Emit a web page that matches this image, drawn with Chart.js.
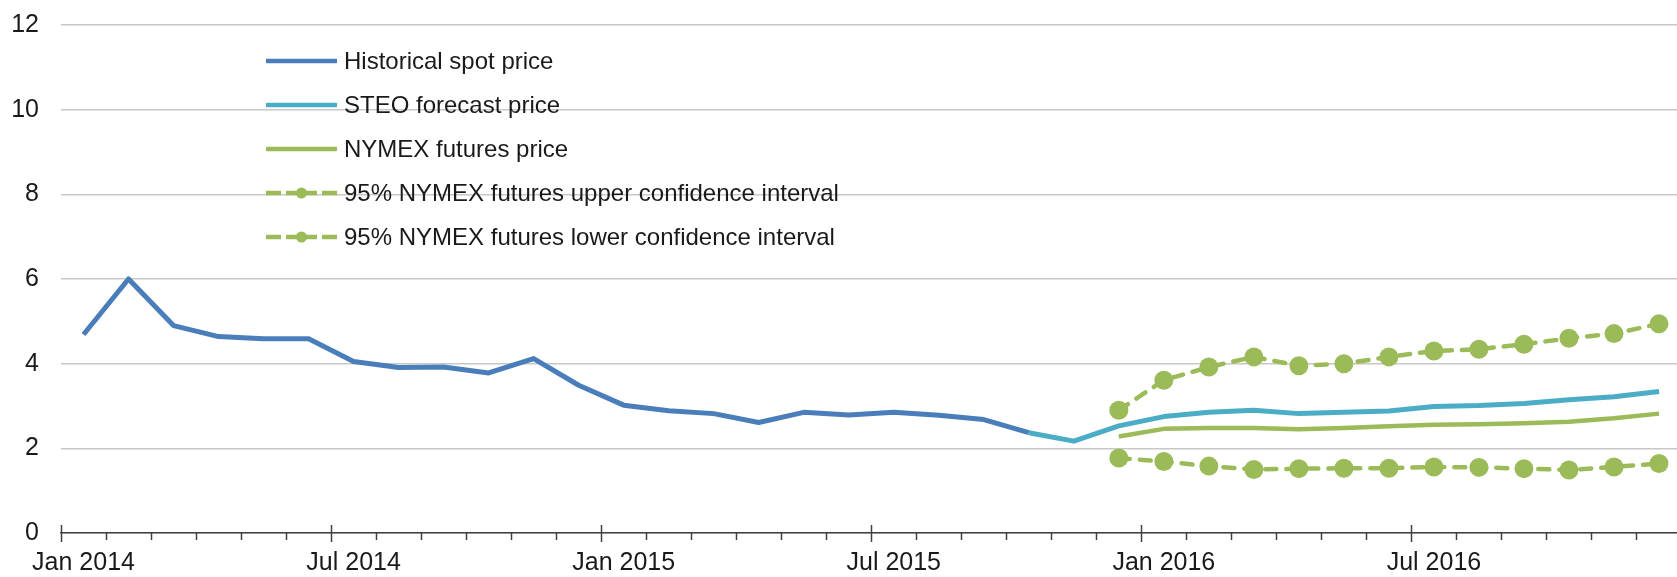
<!DOCTYPE html>
<html>
<head>
<meta charset="utf-8">
<script src="https://cdn.jsdelivr.net/npm/chart.js@4.4.1/dist/chart.umd.min.js"></script>
<style>
  html, body { margin: 0; padding: 0; background: #fff; overflow: hidden; }
  #wrap { position: relative; width: 1691px; height: 577px; }
  #legend { position: absolute; left: 266px; top: 0; font-family: "Liberation Sans", Arial, sans-serif; font-size: 24px; color: #1a1a1a; }
  .row { position: absolute; left: 0; height: 30px; display: flex; align-items: center; white-space: nowrap; }
  .row svg { margin-right: 7px; flex: none; }
</style>
</head>
<body>
<div id="wrap">
  <canvas id="chartGas"></canvas>
  <div id="legend"></div>
</div>
<script>
const months = [
  'Jan 2014', 'Feb 2014', 'Mar 2014', 'Apr 2014', 'May 2014', 'Jun 2014',
  'Jul 2014', 'Aug 2014', 'Sep 2014', 'Oct 2014', 'Nov 2014', 'Dec 2014',
  'Jan 2015', 'Feb 2015', 'Mar 2015', 'Apr 2015', 'May 2015', 'Jun 2015',
  'Jul 2015', 'Aug 2015', 'Sep 2015', 'Oct 2015', 'Nov 2015', 'Dec 2015',
  'Jan 2016', 'Feb 2016', 'Mar 2016', 'Apr 2016', 'May 2016', 'Jun 2016',
  'Jul 2016', 'Aug 2016', 'Sep 2016', 'Oct 2016', 'Nov 2016', 'Dec 2016'
];

// Jan 2014 - Oct 2015
const historical = [4.69, 6.00, 4.90, 4.64, 4.59, 4.59, 4.05, 3.91, 3.92, 3.78, 4.12, 3.49,
  3.02, 2.89, 2.82, 2.61, 2.85, 2.79, 2.85, 2.78, 2.68, 2.37];
// Oct 2015 - Dec 2016
const steo = [2.37, 2.17, 2.53, 2.75, 2.85, 2.90, 2.82, 2.85, 2.88, 2.99, 3.01, 3.06, 3.15, 3.22, 3.34];
// Dec 2015 - Dec 2016
const nymex = [2.28, 2.46, 2.48, 2.48, 2.45, 2.48, 2.52, 2.56, 2.57, 2.59, 2.63, 2.71, 2.82];
const upperCI = [2.90, 3.61, 3.92, 4.16, 3.95, 4.00, 4.16, 4.30, 4.34, 4.46, 4.60, 4.71, 4.94];
const lowerCI = [1.77, 1.69, 1.58, 1.50, 1.52, 1.53, 1.53, 1.56, 1.55, 1.52, 1.49, 1.56, 1.64];

const yTicks = [0, 2, 4, 6, 8, 10, 12];

const BLUE = '#4a7ebb';
const CYAN = '#4bacc6';
const GREEN = '#9bbb59';

// place a partial series on the full month axis
function onAxis(values, startLabel) {
  const start = months.indexOf(startLabel);
  return months.map((m, i) => (i >= start && i < start + values.length) ? values[i - start] : null);
}

// month tick marks: short ones every month, long ones at Jan / Jul
const monthTicks = {
  id: 'monthTicks',
  afterDraw(chart) {
    const x = chart.scales.x;
    const ctx = chart.ctx;
    const y0 = x.top;
    ctx.save();
    ctx.strokeStyle = '#404040';
    ctx.lineWidth = 1.5;
    for (let i = 0; i <= months.length; i++) {
      const px = Math.round(x.getPixelForValue(i - 0.5)) + 0.5;
      const major = i % 6 === 0;
      ctx.beginPath();
      ctx.moveTo(px, major ? y0 - 8 : y0);
      ctx.lineTo(px, y0 + (major ? 9 : 7));
      ctx.stroke();
    }
    ctx.restore();
  }
};

document.addEventListener('DOMContentLoaded', function () {
  Chart.defaults.font.family = '"Liberation Sans", Arial, sans-serif';
  Chart.defaults.color = '#1a1a1a';

  const ciStyle = {
    borderColor: GREEN,
    backgroundColor: GREEN,
    borderWidth: 4.5,
    borderDash: [11, 10],
    borderCapStyle: 'round',
    pointRadius: 9.5,
    pointHoverRadius: 9.5,
    pointBorderWidth: 0,
    pointBackgroundColor: GREEN,
    dash: true
  };

  const chart = new Chart(document.getElementById('chartGas'), {
    type: 'line',
    data: {
      labels: months,
      datasets: [
        { label: 'Historical spot price', data: onAxis(historical, 'Jan 2014'), borderColor: BLUE, backgroundColor: BLUE, borderWidth: 5, pointRadius: 0, borderJoinStyle: 'round' },
        { label: 'STEO forecast price', data: onAxis(steo, 'Oct 2015'), borderColor: CYAN, backgroundColor: CYAN, borderWidth: 5, pointRadius: 0, borderJoinStyle: 'round' },
        { label: 'NYMEX futures price', data: onAxis(nymex, 'Dec 2015'), borderColor: GREEN, backgroundColor: GREEN, borderWidth: 4.5, pointRadius: 0, borderJoinStyle: 'round' },
        Object.assign({ label: '95% NYMEX futures upper confidence interval', data: onAxis(upperCI, 'Dec 2015') }, ciStyle),
        Object.assign({ label: '95% NYMEX futures lower confidence interval', data: onAxis(lowerCI, 'Dec 2015') }, ciStyle)
      ]
    },
    options: {
      responsive: true,
      maintainAspectRatio: false,
      animation: false,
      layout: { padding: { top: 25, right: 3, left: 0, bottom: 0 } },
      plugins: {
        legend: { display: false },
        tooltip: { enabled: false }
      },
      elements: { line: { tension: 0 } },
      scales: {
        x: {
          offset: true,
          grid: { display: true, drawOnChartArea: false, drawTicks: false, offset: true },
          border: { display: true, color: '#404040', width: 1.5 },
          afterFit: s => { s.height = 44; },
          ticks: {
            autoSkip: false,
            maxRotation: 0,
            padding: 15,
            font: { size: 25 },
            callback: (v, i) => (i % 6 === 0 ? months[i] : '')
          }
        },
        y: {
          min: yTicks[0],
          max: yTicks[yTicks.length - 1],
          afterFit: s => { s.width = 61; },
          afterBuildTicks: s => { s.ticks = yTicks.map(v => ({ value: v })); },
          // invisible tick marks make the gap between labels and plot
          grid: { color: '#c8c8c8', lineWidth: 1.5, drawTicks: true, tickLength: 22, tickColor: 'rgba(0,0,0,0)' },
          border: { display: false },
          ticks: { padding: 0, font: { size: 25 } }
        }
      }
    },
    plugins: [monthTicks]
  });

  // legend in the upper-left of the plot area, built from the datasets
  const legend = document.getElementById('legend');
  chart.data.datasets.forEach((ds, i) => {
    const row = document.createElement('div');
    row.className = 'row';
    row.style.top = (60.5 + i * 44 - 15) + 'px';
    let svg = '<svg width="71" height="30">';
    if (ds.dash) {
      svg += '<line x1="0" y1="15" x2="71" y2="15" stroke="' + ds.borderColor + '" stroke-width="4.5" stroke-dasharray="15 5 31 5 15"/>';
      svg += '<circle cx="35.5" cy="15" r="5.5" fill="' + ds.borderColor + '"/>';
    } else {
      svg += '<line x1="1" y1="15" x2="70" y2="15" stroke="' + ds.borderColor + '" stroke-width="4.5" stroke-linecap="round"/>';
    }
    svg += '</svg>';
    row.innerHTML = svg + '<span>' + ds.label + '</span>';
    legend.appendChild(row);
  });
});
</script>
</body>
</html>
